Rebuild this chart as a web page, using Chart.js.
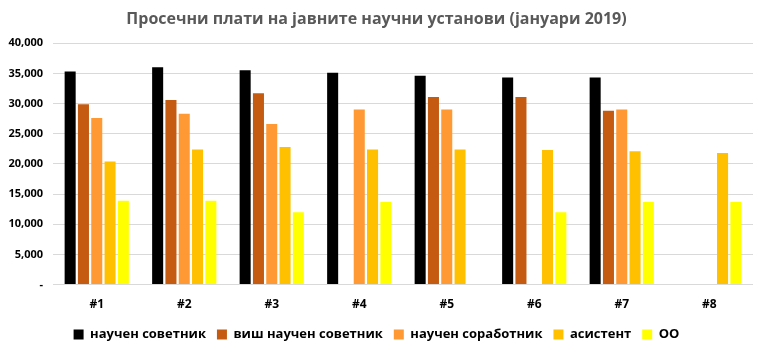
<!DOCTYPE html>
<html lang="mk">
<head>
  <meta charset="UTF-8">
  <title>Просечни плати</title>
  <script src="https://cdn.jsdelivr.net/npm/chart.js"></script>
  <style>
    * { margin: 0; padding: 0; box-sizing: border-box; }
    body { background: #fff; }
    .chart-box { width: 761px; height: 352px; position: relative; }
  </style>
</head>
<body>
  <div class="chart-box">
    <canvas id="salaryChart"></canvas>
  </div>

  <script>
    const institutes = ['#1', '#2', '#3', '#4', '#5', '#6', '#7', '#8'];
    const yTicks = [0, 5000, 10000, 15000, 20000, 25000, 30000, 35000, 40000];

    const naucenSovetnik   = [35300, 36000, 35500, 35100, 34600, 34300, 34300, null];
    const vishNaucen       = [29900, 30600, 31700, null, 31100, 31100, 28800, null];
    const naucenSorabotnik = [27600, 28300, 26600, 29000, 29000, null, 29000, null];
    const asistent         = [20400, 22400, 22800, 22400, 22400, 22300, 22100, 21800];
    const oo               = [13900, 13900, 12000, 13700, null, 12000, 13700, 13700];

    const font = "'Open Sans', 'DejaVu Sans', sans-serif";

    function series(label, data, color) {
      return {
        label: label,
        data: data,
        backgroundColor: color,
        borderWidth: 0,
        categoryPercentage: 0.76,
        barPercentage: 0.83
      };
    }

    const ctx = document.getElementById('salaryChart').getContext('2d');
    const salaryChart = new Chart(ctx, {
      type: 'bar',
      data: {
        labels: institutes,
        datasets: [
          series('научен советник', naucenSovetnik, '#000000'),
          series('виш научен советник', vishNaucen, '#C55A11'),
          series('научен соработник', naucenSorabotnik, '#FF9933'),
          series('асистент', asistent, '#FFC000'),
          series('ОО', oo, '#FFFF00')
        ]
      },
      options: {
        responsive: true,
        maintainAspectRatio: false,
        animation: false,
        layout: { padding: { left: 0, right: 8, top: 7, bottom: 1 } },
        plugins: {
          title: {
            display: true,
            text: 'Просечни плати на јавните научни установи (јануари 2019)',
            color: '#595959',
            font: { family: font, size: 16, weight: 'bold' },
            padding: { top: 3, bottom: 14 }
          },
          legend: {
            display: true,
            position: 'bottom',
            labels: {
              boxWidth: 10,
              boxHeight: 10,
              padding: 11,
              color: '#000',
              font: { family: font, size: 13, weight: 'bold' }
            }
          },
          tooltip: { enabled: false }
        },
        scales: {
          x: {
            grid: { display: false },
            border: { display: false },
            ticks: {
              color: '#000',
              padding: 5,
              font: { family: font, size: 12, weight: 'bold' }
            }
          },
          y: {
            min: 0,
            max: 40000,
            afterFit: axis => { axis.width = 53; },
            afterBuildTicks: axis => { axis.ticks = yTicks.map(v => ({ value: v })); },
            grid: { color: '#D9D9D9', drawTicks: false },
            border: { display: false },
            ticks: {
              color: '#000',
              padding: 10,
              font: { family: font, size: 11, weight: 'bold' },
              callback: v => v === 0 ? '-' : v.toLocaleString('en-US')
            }
          }
        }
      }
    });
  </script>
</body>
</html>
